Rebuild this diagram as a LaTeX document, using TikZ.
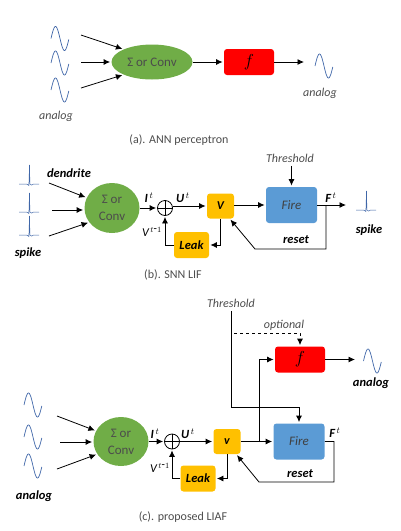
\documentclass[tikz,border=0pt]{standalone}
\usepackage{fontspec}
\setmainfont{Carlito}
\usetikzlibrary{positioning,shapes.geometric,arrows.meta}
\newcommand{\fsize}[1]{\fontsize{#1}{#1}\selectfont}
\definecolor{sumgreen}{HTML}{70AD47}
\definecolor{firered}{HTML}{FF0000}
\definecolor{voltorange}{HTML}{FFC000}
\definecolor{fireblue}{HTML}{5B9BD5}
\definecolor{waveblue}{HTML}{3F66A8}
\tikzset{
  sinewave/.pic={\draw[waveblue,line width=0.7pt] plot[domain=-9:9,samples=31,smooth] (\x,{12*sin(20*\x)});},
  spikewave/.pic={\draw[waveblue,line width=0.5pt] (-10.5,0) -- (-3,0) .. controls (-2,0) and (-1,1.5) .. (-0.6,1.5) -- (0,-19) -- (0.4,0) .. controls (1,1.5) and (3,1.5) .. (4,0) -- (10.5,0);},
  sumnode/.style={ellipse,fill=sumgreen,inner sep=0pt,align=center,text=black!70,font=\fsize{13}},
  boxnode/.style={rectangle,rounded corners=3pt,inner sep=0pt},
  fnode/.style={boxnode,fill=firered,minimum width=50pt,minimum height=26pt,font=\fsize{17}},
  firenode/.style={boxnode,fill=fireblue,minimum width=51pt,minimum height=36pt,text=black!75,font=\fsize{13}\itshape},
  vnode/.style={boxnode,fill=voltorange,minimum width=27pt,minimum height=25pt,font=\fsize{12}\itshape\bfseries},
  leaknode/.style={boxnode,fill=voltorange,minimum width=35pt,minimum height=26pt,font=\fsize{12.5}\itshape\bfseries},
  addnode/.style={circle,draw,minimum size=15pt,inner sep=0pt,path picture={
    \draw (path picture bounding box.north) -- (path picture bounding box.south)
    (path picture bounding box.west) -- (path picture bounding box.east);}},
  greylabel/.style={text=black!70,font=\fsize{12}\itshape},
  boldlabel/.style={font=\fsize{12.5}\itshape\bfseries},
  caption/.style={text=black!70,font=\fsize{12}}
}
\begin{document}
\begin{tikzpicture}[x=1pt,y=-1pt,>={Latex[length=6.5pt,width=6pt]},shorten >=1pt,on grid,line width=0.8pt]
   \useasboundingbox (0,0) rectangle (401,531);

   \pic at (60,38.5) {sinewave};
   \pic at (60,63) {sinewave};
   \pic at (60,90) {sinewave};
   \pic at (324,66) {sinewave};
   \coordinate (in_a1) at (81,35);
   \coordinate (in_a2) at (81,62);
   \coordinate (in_a3) at (81,88);
   \coordinate (out_a) at (305,62);
   \node[sumnode,minimum width=81pt,minimum height=35pt] (sum_a) at (152,62) {Σ or Conv};
   \node[fnode] (f_a) [right=97pt of sum_a] {$f$};
   \node[greylabel] (an_a1) at (56,116) {analog};
   \node[greylabel] (an_a2) at (320,93) {analog};
   \node[caption] (cap_a) at (179,140) {(a). ANN perceptron};
   \path[->]
    (in_a1) edge (sum_a.156)
    (in_a2) edge (sum_a.west)
    (in_a3) edge (sum_a.204)
    (sum_a) edge (f_a)
    (f_a) edge (out_a);

   \pic at (29.5,184) {spikewave};
   \pic at (29.5,212) {spikewave};
   \pic at (29.5,235) {spikewave};
   \pic at (366.5,210) {spikewave};
   \coordinate (in_b1) at (49,183);
   \coordinate (in_b2) at (52,210);
   \coordinate (in_b3) at (49,236);
   \coordinate (out_b) at (347,205);
   \coordinate (tap_b) at (326,205);
   \coordinate (back_b) at (255,249);
   \node[sumnode,minimum width=55pt,minimum height=50pt] (sum_b) at (112,208) {Σ or\\[4pt]Conv};
   \node[addnode] (add_b) [right=53pt of sum_b] {};
   \node[vnode] (v_b) [above right=2pt and 55.5pt of add_b] {V};
   \node[firenode] (fire_b) [above right=1pt and 71pt of v_b] {Fire};
   \node[leaknode] (leak_b) [below right=37pt and 26.5pt of add_b] {Leak};
   \node[greylabel] (thr_b) at (290,158) {Threshold};
   \node[boldlabel] (dend_b) at (69,173) {dendrite};
   \node[boldlabel] (sp_b1) at (28,253) {spike};
   \node[boldlabel] (sp_b2) at (369,230) {spike};
   \node[boldlabel] (i_b) at (149,198) {I$^{\,t}$};
   \node[boldlabel] (u_b) at (183,198) {U$^{\,t}$};
   \node[boldlabel] (f_b) at (331,198) {F$^{\,t}$};
   \node[greylabel,text=black] (vp_b) at (152,232) {V$^{\,t\mbox{-}1}$};
   \node[boldlabel] (rst_b) at (296,240) {reset};
   \node[caption] (cap_b) at (173,275) {(b). SNN LIF};
   \path[->]
    (in_b1) edge (sum_b.158)
    (in_b2) edge (sum_b.west |- in_b2)
    (in_b3) edge (sum_b.212)
    (sum_b) edge (add_b)
    (add_b.east |- v_b) edge (v_b)
    (v_b.east |- fire_b) edge (fire_b)
    (thr_b.south -| fire_b) edge (fire_b)
    (fire_b) edge (out_b);
   \draw[->] (v_b) |- (leak_b);
   \draw[->] (leak_b) -| (add_b);
   \draw[->] (tap_b) |- (back_b) -- (v_b.-54);

   \pic at (33,405) {sinewave};
   \pic at (33,437) {sinewave};
   \pic at (33,466) {sinewave};
   \pic at (372.5,361) {sinewave};
   \coordinate (in_c1) at (57,416);
   \coordinate (in_c2) at (60,442);
   \coordinate (in_c3) at (57,469);
   \coordinate (out_c) at (356,359.5);
   \coordinate (tap_c) at (259,442);
   \coordinate (drop_c) at (299,407);
   \coordinate (dash_c) at (234,333);
   \coordinate (side_c) at (334,482);
   \coordinate (back_c) at (259,482);
   \node[sumnode,minimum width=55pt,minimum height=49pt] (sum_c) at (121,441.5) {Σ or\\[4pt]Conv};
   \node[addnode] (add_c) [right=51pt of sum_c] {};
   \node[vnode] (v_c) [right=55pt of add_c] {v};
   \node[firenode] (fire_c) [right=72pt of v_c] {Fire};
   \node[fnode] (f_c) [above right=82pt and 1pt of fire_c] {$f$};
   \node[leaknode] (leak_c) [below right=37pt and 26pt of add_c] {Leak};
   \node[greylabel] (thr_c) at (231,303) {Threshold};
   \node[greylabel] (opt_c) at (284,325) {optional};
   \node[boldlabel] (an_c1) at (34,496) {analog};
   \node[boldlabel] (an_c2) at (371,383) {analog};
   \node[boldlabel] (i_c) at (155,434) {I$^{\,t}$};
   \node[boldlabel] (u_c) at (188,434) {U$^{\,t}$};
   \node[boldlabel] (f_f) at (335,433) {F$^{\,t}$};
   \node[greylabel,text=black] (vp_c) at (160,468) {V$^{\,t\mbox{-}1}$};
   \node[boldlabel] (rst_c) at (300,474) {reset};
   \node[caption] (cap_c) at (183,517) {(c). proposed LIAF};
   \path[->]
    (in_c1) edge (sum_c.157)
    (in_c2) edge (sum_c.west |- in_c2)
    (in_c3) edge (sum_c.208)
    (sum_c) edge (add_c)
    (add_c) edge (v_c)
    (v_c) edge (fire_c)
    (f_c) edge (out_c);
   \draw[->] (thr_c) |- (drop_c) -- (fire_c);
   \draw[->,dashed] (dash_c) -| (f_c);
   \draw[->] (tap_c) |- (f_c);
   \draw[->] (v_c) |- (leak_c);
   \draw[->] (leak_c) -| (add_c);
   \draw[->] (fire_c) -| (side_c) -- (back_c) -- (v_c.-54);
\end{tikzpicture}
\end{document}
